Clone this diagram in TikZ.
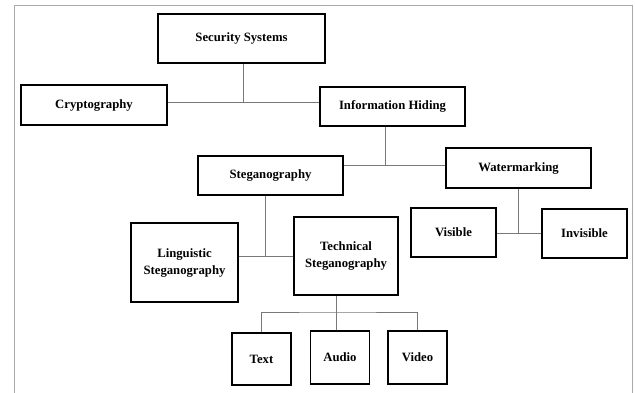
\documentclass[tikz,border=0pt]{standalone}
\usepackage{fontspec}
\setmainfont{Liberation Serif}
\usetikzlibrary{positioning,calc,backgrounds}
\definecolor{linkGray}{RGB}{120,120,120}
\definecolor{frameGray}{RGB}{170,170,170}

\begin{document}
\begin{tikzpicture}[x=1pt, y=-1pt,
    box/.style={draw=black, line width=1.6pt, fill=white, align=center,
      font=\fontsize{12.7}{17}\selectfont\bfseries, inner sep=0pt},
    link/.style={draw=linkGray, line width=0.8pt}]
    \useasboundingbox (0,0) rectangle (635,392);
    % Outer frame
    \draw[frameGray, line width=0.9pt] (14,5) rectangle (632,398);

    % Top level
    \node[box, minimum width=167pt, minimum height=49pt] (sec) at (241.5,38.5) {Security Systems};
    \node[box, minimum width=146pt, minimum height=40pt] (crypto) at (94,105) {Cryptography};
    \node[box, minimum width=145pt, minimum height=39pt] (info) at (392.5,106.5) {Information Hiding};

    % Information hiding branch
    \node[box, minimum width=145pt, minimum height=39pt] (steg) at (270.5,175.5) {Steganography};
    \node[box, minimum width=145pt, minimum height=40pt] (water) at (518.5,168) {Watermarking};

    % Watermarking branch
    \node[box, minimum width=85pt, minimum height=49pt] (visible) at (453.5,232.5) {Visible};
    \node[box, minimum width=85pt, minimum height=49pt] (invisible) at (584.5,233.5) {Invisible};

    % Steganography branch
    \node[box, minimum width=107pt, minimum height=79pt] (ling) at (184.5,262.5) {Linguistic\\Steganography};
    \node[box, minimum width=104pt, minimum height=78pt] (tech) at (346,256) {Technical\\Steganography};

    % Media
    \node[box, minimum width=59pt, minimum height=52pt] (text) at (261.5,359) {Text};
    \node[box, minimum width=59pt, minimum height=53pt] (audio) at (340,357.5) {Audio};
    \node[box, minimum width=59pt, minimum height=53pt] (video) at (417.5,357.5) {Video};

    % Connectors, kept behind the boxes
    \begin{pgfonlayer}{background}
    \coordinate (jSec) at (243,102);
    \draw[link] (sec.south -| jSec) -- (jSec);
    \draw[link] (crypto.east |- jSec) -- (info.west |- jSec);

    \coordinate (jInfo) at (385,165);
    \draw[link] (info.south -| jInfo) -- (jInfo);
    \draw[link] (steg.east |- jInfo) -- (water.west |- jInfo);

    \coordinate (jWater) at (518,233);
    \draw[link] (water.south -| jWater) -- (jWater);
    \draw[link] (visible.east |- jWater) -- (invisible.west |- jWater);

    \coordinate (jSteg) at (265,256);
    \draw[link] (steg.south -| jSteg) -- (jSteg);
    \draw[link] (ling.east |- jSteg) -- (tech.west |- jSteg);

    \coordinate (jTech) at (336,312);
    \draw[link] (tech.south -| jTech) -- (audio.north -| jTech);
    \draw[link] (text.north) |- (jTech) -| (video.north);
    \end{pgfonlayer}
\end{tikzpicture}
\end{document}
